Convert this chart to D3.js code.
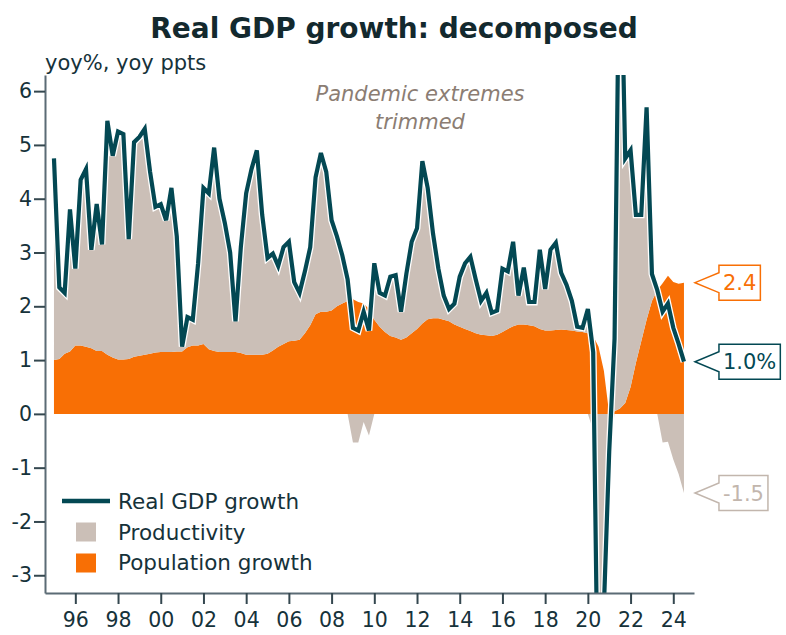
<!DOCTYPE html>
<html><head><meta charset="utf-8">
<script src="https://cdn.jsdelivr.net/npm/d3@7"></script>
<style>
html,body{margin:0;padding:0;background:#fff;}
svg{display:block;font-family:"DejaVu Sans",sans-serif;}
</style></head><body>
<svg id="chart" width="786" height="635"></svg>
<script>
// ---------------- DATA ----------------
const firstQuarter = {year: 1994, quarter: 4};   // quarterly, year-on-year
const gdpGrowth = [
  4.75, 2.35, 2.25, 3.8, 2.7, 4.35, 4.55, 3.05, 3.9, 3.15,
  5.45, 4.8, 5.25, 5.2, 3.25, 5.05, 5.15, 5.3, 4.5, 3.85,
  3.9, 3.6, 4.2, 3.3, 1.25, 1.8, 1.75, 2.8, 4.2, 4.1,
  4.95, 4.0, 3.55, 3.0, 1.72, 3.1, 4.1, 4.55, 4.9, 3.7,
  2.9, 2.98, 2.75, 3.1, 3.2, 2.45, 2.25, 2.65, 3.1, 4.4,
  4.85, 4.5, 3.6, 3.3, 2.95, 2.5, 1.6, 1.55, 1.9, 1.55,
  2.8, 2.25, 2.2, 2.55, 2.58, 1.9, 2.6, 3.2, 3.45, 4.7,
  4.2, 3.35, 2.7, 2.2, 1.95, 2.05, 2.55, 2.8, 2.92, 2.5,
  2.1, 2.25, 1.88, 1.92, 2.7, 2.65, 3.2, 2.2, 2.72, 2.08,
  2.08, 3.05, 2.32, 3.05, 3.18, 2.62, 2.4, 2.1, 1.62, 1.6,
  1.95, 1.15, -6.3, -3.6, -0.7, 1.4, 9.6, 4.75, 4.9, 3.7,
  3.7, 5.7, 2.6, 2.3, 1.9, 2.05, 1.6, 1.3, 0.97
];
const populationGrowth = [
  1.0, 1.02, 1.12, 1.16, 1.27, 1.27, 1.25, 1.22, 1.17, 1.17,
  1.1, 1.05, 1.01, 1.01, 1.02, 1.06, 1.08, 1.1, 1.12, 1.14,
  1.15, 1.15, 1.15, 1.16, 1.16, 1.24, 1.27, 1.27, 1.3, 1.2,
  1.17, 1.15, 1.15, 1.15, 1.15, 1.13, 1.1, 1.1, 1.1, 1.1,
  1.12, 1.18, 1.25, 1.3, 1.35, 1.36, 1.38, 1.5, 1.65, 1.85,
  1.9, 1.9, 1.92, 2.0, 2.05, 2.1, 2.13, 2.08, 2.05, 1.95,
  1.75, 1.62, 1.52, 1.45, 1.42, 1.38, 1.42, 1.5, 1.58, 1.68,
  1.76, 1.78, 1.78, 1.75, 1.72, 1.66, 1.62, 1.58, 1.54, 1.5,
  1.47, 1.46, 1.45, 1.47, 1.52, 1.58, 1.63, 1.66, 1.66, 1.65,
  1.63, 1.58, 1.55, 1.55, 1.56, 1.57, 1.56, 1.55, 1.53, 1.52,
  1.5, 1.45, 1.25, 0.8, 0.0, 0.05, 0.1, 0.2, 0.5, 0.95,
  1.35, 1.75, 2.1, 2.3, 2.43, 2.57, 2.45, 2.42, 2.44
];
const productivity = [
  3.75, 1.33, 1.13, 2.64, 1.43, 3.08, 3.30, 1.83, 2.73, 1.98,
  4.35, 3.75, 4.24, 4.19, 2.23, 3.99, 4.07, 4.20, 3.38, 2.71,
  2.75, 2.45, 3.05, 2.14, 0.09, 0.56, 0.48, 1.53, 2.90, 2.90,
  3.78, 2.85, 2.40, 1.85, 0.57, 1.97, 3.00, 3.45, 3.80, 2.60,
  1.78, 1.80, 1.50, 1.80, 1.85, 1.09, 0.87, 1.15, 1.45, 2.55,
  2.95, 2.60, 1.68, 1.30, 0.90, 0.40, -0.53, -0.53, -0.15, -0.40,
  1.05, 0.63, 0.68, 1.10, 1.16, 0.52, 1.18, 1.70, 1.87, 3.02,
  2.44, 1.57, 0.92, 0.45, 0.23, 0.39, 0.93, 1.22, 1.38, 1.00,
  0.63, 0.79, 0.43, 0.45, 1.18, 1.07, 1.57, 0.54, 1.06, 0.43,
  0.45, 1.47, 0.77, 1.50, 1.62, 1.05, 0.84, 0.55, 0.09, 0.08,
  0.45, -0.30, -7.55, -4.40, -0.70, 1.35, 9.50, 4.55, 4.40, 2.75,
  2.35, 3.95, 0.50, 0.00, -0.53, -0.52, -0.85, -1.12, -1.47
];
const yTicks = [-3, -2, -1, 0, 1, 2, 3, 4, 5, 6];
const xTickYears = [1996, 1998, 2000, 2002, 2004, 2006, 2008, 2010, 2012, 2014, 2016, 2018, 2020, 2022, 2024];
const xTickLabels = ["96", "98", "00", "02", "04", "06", "08", "10", "12", "14", "16", "18", "20", "22", "24"];
const seriesNames = ["Real GDP growth", "Productivity", "Population growth"];
const titleText = "Real GDP growth: decomposed";
const unitText = "yoy%, yoy ppts";
const noteLines = ["Pandemic extremes", "trimmed"];

// ---------------- STYLE ----------------
const C = {
  line: "#034853", orange: "#f86f05", grey: "#cbbfb7",
  text: "#16323a", axis: "#5b6b75", note: "#8b7d73", greyText: "#c2b6ad"
};

// quarter-end decimal dates
const dates = gdpGrowth.map((_, i) => {
  const qIndex = firstQuarter.year * 4 + (firstQuarter.quarter - 1) + i;
  return Math.floor(qIndex / 4) + ((qIndex % 4) + 1) / 4;
});
const rows = dates.map((t, i) => ({t, gdp: gdpGrowth[i], pop: populationGrowth[i], prod: productivity[i]}));

const svg = d3.select("#chart");
const plot = {left: 45, right: 694, top: 75, bottom: 593};
const x = d3.scaleLinear().domain([1994.58, 2024.97]).range([plot.left, plot.right]);
const y = d3.scaleLinear().domain([-3.33, 6.3]).range([plot.bottom, plot.top]);

svg.append("defs").append("clipPath").attr("id", "clip")
  .append("rect").attr("x", plot.left).attr("y", plot.top)
  .attr("width", plot.right - plot.left).attr("height", plot.bottom - plot.top);

const g = svg.append("g").attr("clip-path", "url(#clip)");

// population (orange)
g.append("path").datum(rows)
  .attr("fill", C.orange)
  .attr("d", d3.area().x(d => x(d.t)).y0(y(0)).y1(d => y(d.pop)));
// productivity, positive part stacked on population
g.append("path").datum(rows)
  .attr("fill", C.grey)
  .attr("d", d3.area().x(d => x(d.t)).y0(d => y(d.pop)).y1(d => y(d.pop + Math.max(d.prod, 0))));
// productivity, negative part below zero
g.append("path").datum(rows)
  .attr("fill", C.grey)
  .attr("d", d3.area().x(d => x(d.t)).y0(y(0)).y1(d => y(Math.min(d.prod, 0))));

const lineGen = d3.line().x(d => x(d.t)).y(d => y(d.gdp));
g.append("path").datum(rows).attr("fill", "none").attr("stroke", "#fff")
  .attr("stroke-width", 6.8).attr("d", lineGen);
g.append("path").datum(rows).attr("fill", "none").attr("stroke", C.line)
  .attr("stroke-width", 4.2).attr("d", lineGen);

// axes
const yAxis = d3.axisLeft(y).tickValues(yTicks).tickFormat(d => String(d))
  .tickSize(11).tickPadding(2).tickSizeOuter(0);
const xAxis = d3.axisBottom(x).tickValues(xTickYears).tickFormat((d, i) => xTickLabels[i])
  .tickSize(11).tickPadding(8).tickSizeOuter(0);

const ya = svg.append("g").attr("transform", `translate(${plot.left},0)`).call(yAxis);
const xa = svg.append("g").attr("transform", `translate(0,${plot.bottom})`).call(xAxis);
[ya, xa].forEach(a => {
  a.select(".domain").attr("stroke", C.axis).attr("stroke-width", 2);
  a.selectAll(".tick line").attr("stroke", "#34474f").attr("stroke-width", 2);
  a.selectAll(".tick text").attr("fill", C.text).attr("font-size", 20.5)
    .attr("font-family", '"DejaVu Sans",sans-serif');
});

// title & unit
svg.append("text").attr("x", 394).attr("y", 38).attr("text-anchor", "middle")
  .attr("font-size", 28).attr("font-weight", "bold").attr("fill", "#13292e").text(titleText);
svg.append("text").attr("x", 45).attr("y", 69.5).attr("font-size", 21)
  .attr("fill", C.text).text(unitText);

// note
svg.append("g").selectAll("text").data(noteLines).join("text")
  .attr("x", 420).attr("y", (d, i) => 101 + i * 27.5).attr("text-anchor", "middle")
  .attr("font-size", 21).attr("font-style", "italic").attr("fill", C.note).text(d => d);

// legend
const lg = svg.append("g");
lg.append("line").attr("x1", 62).attr("x2", 110).attr("y1", 501).attr("y2", 501)
  .attr("stroke", C.line).attr("stroke-width", 4.5);
lg.append("rect").attr("x", 76).attr("y", 522.5).attr("width", 20).attr("height", 19).attr("fill", C.grey);
lg.append("rect").attr("x", 76).attr("y", 553.5).attr("width", 20).attr("height", 19).attr("fill", C.orange);
lg.selectAll("text.lab").data(seriesNames).join("text").attr("class", "lab")
  .attr("x", 118).attr("y", (d, i) => 509 + i * 30.5).attr("font-size", 21.5)
  .attr("fill", C.text).text(d => d);

// callouts at last values
const last = rows[rows.length - 1];
function callout(value, label, color) {
  const tipX = x(last.t) + 11, tipY = y(value), bx = tipX + 24, h = 17.5, n = 10;
  const cg = svg.append("g");
  const t = cg.append("text").attr("x", bx + 4).attr("y", tipY).attr("dy", "0.36em")
    .attr("font-size", 21).attr("fill", color).text(label);
  const w = t.node().getComputedTextLength() + 8;
  cg.insert("path", "text")
    .attr("d", `M${bx},${tipY - h}H${bx + w}V${tipY + h}H${bx}V${tipY + n}L${tipX},${tipY}L${bx},${tipY - n}Z`)
    .attr("fill", "#fff").attr("stroke", color).attr("stroke-width", 1.5);
}
callout(last.pop, d3.format(".1f")(last.pop), C.orange);
callout(last.gdp, d3.format(".1f")(last.gdp) + "%", C.line);
callout(last.prod, d3.format(".1f")(last.prod).replace("−", "-"), C.greyText);
</script>
</body></html>
